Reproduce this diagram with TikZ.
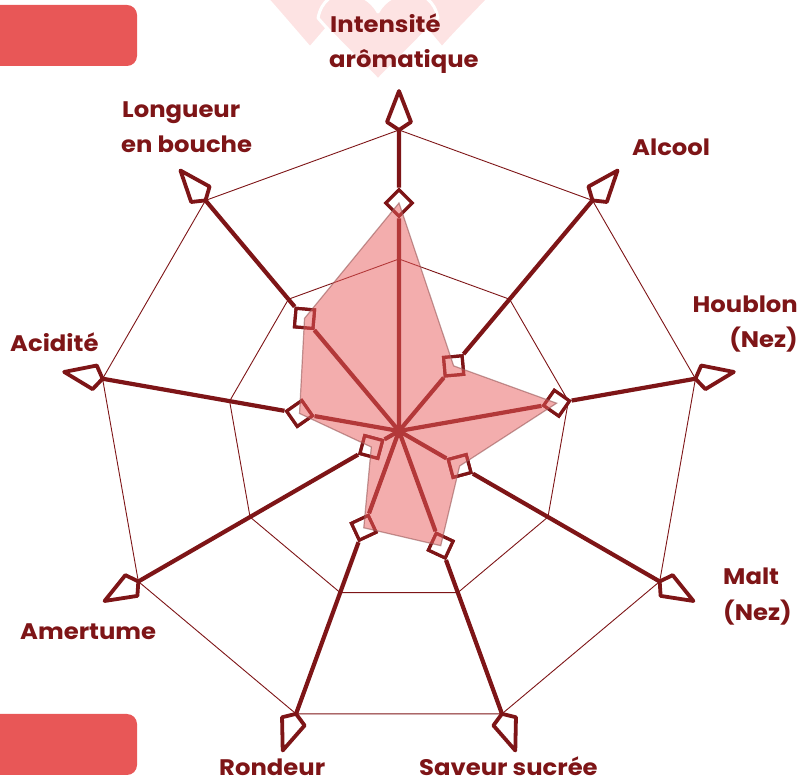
\documentclass[tikz,border=0pt]{standalone}
\usepackage{fontspec}
\setmainfont{Poppins}[BoldFeatures={FakeStretch=1.08}]
\definecolor{wine}{HTML}{7E1517}
\definecolor{boxred}{HTML}{E85757}
\definecolor{areafill}{HTML}{E85C5C}
\definecolor{areaedge}{HTML}{9A5A5A}
\definecolor{heartpink}{HTML}{FDE3E3}
\tikzset{
  gridline/.style={draw=wine, line width=0.9pt},
  axisline/.style={draw=wine, line width=4.2pt},
  kite/.style={draw=wine, fill=white, line width=3.8pt, line join=round},
  marker/.style={draw=wine, fill=white, line width=3.2pt, shape=rectangle, minimum size=18.5pt, inner sep=0pt},
  lab/.style={text=wine, font=\bfseries\fontsize{22.5}{26}\selectfont, inner sep=0pt},
  banner/.style={fill=boxred, rounded corners=10pt},
  heart/.style={fill=heartpink, draw=white, line width=3pt, line join=round}
}
\begin{document}
\begin{tikzpicture}[x=1pt,y=1pt]
\useasboundingbox (0,0) rectangle (799,783);
% faint hearts in the background
\begin{scope}
\clip (0,0) rectangle (799,783);
\path[heart] (262,790) .. controls (280,770) and (295,752) .. (310,735) .. controls (325,752) and (340,770) .. (356,790) -- cycle;
\path[heart] (398,790) .. controls (412,770) and (428,752) .. (442,735) .. controls (457,752) and (475,770) .. (494,790) -- cycle;
\path[heart] (378,771) .. controls (365,795) and (325,800) .. (318,765) .. controls (335,745) and (360,722) .. (378,703) .. controls (396,722) and (421,745) .. (438,765) .. controls (431,800) and (391,795) .. (378,771) -- cycle;
\end{scope}
% banners
\path[banner] (-15,717) rectangle (137,778);
\path[banner] (-15,8) rectangle (137,69);
% centre
\coordinate (c) at (399,352);
% web
\draw[gridline] (c) ++(90:301) \foreach \a in {50,10,-30,-70,-110,-150,170,130} { -- ([shift={(c)}]\a:301) } -- cycle;
\draw[gridline] (c) ++(90:172) \foreach \a in {50,10,-30,-70,-110,-150,170,130} { -- ([shift={(c)}]\a:172) } -- cycle;
% axes, arrow heads and markers
\foreach \a/\v/\n in {90/228/1,50/85/2,10/160/3,-30/70/4,-70/122/5,-110/103/6,-150/32/7,170/101/8,130/147/9} {
  \coordinate (b\n) at ([shift={(c)}]\a:301);
  \node[marker, rotate=\a+45] (m\n) at ([shift={(c)}]\a:\v) {};
  \draw[axisline] (c) -- (m\n);
  \draw[axisline] (m\n) -- (b\n);
  \node[marker, rotate=\a+45] at (m\n) {};
  \begin{scope}[shift={(c)}, rotate=\a]
    \draw[kite] (301,0) -- (309,12) -- (340,0) -- (309,-12) -- cycle;
  \end{scope}
}
% data area
\path[fill=areafill, fill opacity=0.5, draw=areaedge, draw opacity=0.6, line width=1.2pt]
  (m1.center) -- (m2.center) -- (m3.center) -- (m4.center) -- (m5.center) -- (m6.center) -- (m7.center) -- (m8.center) -- (m9.center) -- cycle;
% labels
\node[lab, anchor=base west] (l1a) at (330,750) {Intensité};
\node[lab, anchor=base west] (l1b) at (329,715) {arômatique};
\node[lab, anchor=base west] (l2) at (632,627) {Alcool};
\node[lab, anchor=base east] (l3a) at (798,470) {Houblon};
\node[lab, anchor=base east] (l3b) at (798,435) {(Nez)};
\node[lab, anchor=base west] (l4a) at (723,198) {Malt};
\node[lab, anchor=base west] (l4b) at (723,162) {(Nez)};
\node[lab, anchor=base west] (l5) at (419,7) {Saveur sucrée};
\node[lab, anchor=base west] (l6) at (219,7) {Rondeur};
\node[lab, anchor=base west] (l7) at (20,143) {Amertume};
\node[lab, anchor=base west] (l8) at (10,431) {Acidité};
\node[lab, anchor=base west] (l9a) at (122,665) {Longueur};
\node[lab, anchor=base west] (l9b) at (121,630) {en bouche};
\end{tikzpicture}
\end{document}
